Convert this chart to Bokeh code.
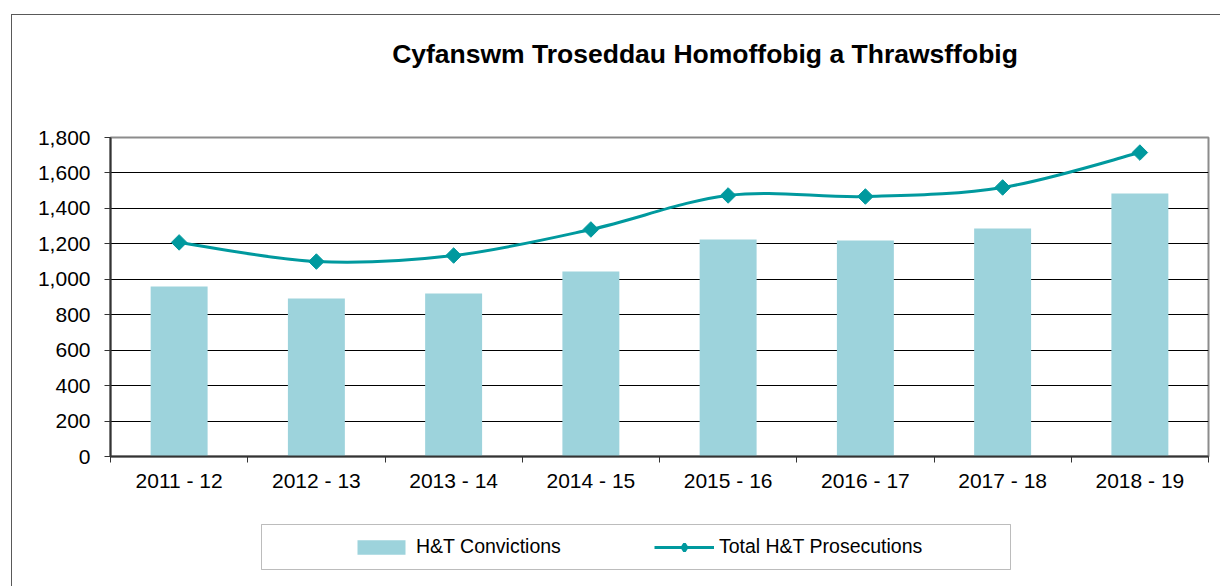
import numpy as np
from bokeh.plotting import figure
from bokeh.layouts import column
from bokeh.models import (Range1d, FixedTicker, NumeralTickFormatter, Legend, LegendItem,
                          BoxAnnotation, Label)
from bokeh.embed import file_html
from bokeh.resources import INLINE

# ---- data ----
categories = ["2011 - 12", "2012 - 13", "2013 - 14", "2014 - 15",
              "2015 - 16", "2016 - 17", "2017 - 18", "2018 - 19"]
convictions = [959, 892, 920, 1044, 1225, 1219, 1287, 1484]
prosecutions = [1208, 1100, 1134, 1281, 1473, 1467, 1518, 1715]
y_ticks = [0, 200, 400, 600, 800, 1000, 1200, 1400, 1600, 1800]
title_text = "Cyfanswm Troseddau Homoffobig a Thrawsffobig"
series_names = ["H&T Convictions", "Total H&T Prosecutions"]

FONT = "Liberation Sans"
BAR = "#9DD3DC"
TEAL = "#00999E"
DARK = "#333333"
W = 1208
FRAME_L, FRAME_R = 110, 1208   # page x of the plot frame (strips are frame-aligned)

n = len(categories)
xc = np.arange(n) + 0.5
yv = np.array(prosecutions, dtype=float)


def strip(h):
    f = figure(width=W, height=h, x_range=Range1d(FRAME_L, FRAME_R), y_range=Range1d(0, h),
               x_axis_type=None, y_axis_type=None, output_backend="svg",
               toolbar_location=None, min_border=0)
    f.outline_line_color = None
    f.background_fill_color = "white"
    f.border_fill_color = "white"
    return f


# ---- title strip ----
p0 = strip(80)
p0.add_layout(Label(x=704.5, y=42, text=title_text, text_align="center",
                    text_baseline="alphabetic", text_font=FONT, text_font_size="26.5px",
                    text_font_style="bold", text_color="black"))

# ---- main chart ----
p = figure(width=W, height=415, x_range=Range1d(0, n), y_range=Range1d(0, 1800),
           output_backend="svg", toolbar_location=None,
           min_border_left=98, min_border_right=12, min_border_top=42, min_border_bottom=54)
p.background_fill_color = "white"
p.border_fill_color = "white"
p.outline_line_color = "#8C8C8C"
p.outline_line_width = 2

bars = p.vbar(x=xc, top=convictions, width=0.415, fill_color=BAR, line_color=None)

# smoothed line (Catmull-Rom style cubic Bezier through the data points)
xe = np.concatenate([[xc[0]], xc, [xc[-1]]])
ye = np.concatenate([[yv[0]], yv, [yv[-1]]])
x0 = xc[:-1]; y0 = yv[:-1]; x1 = xc[1:]; y1 = yv[1:]
cx0 = x0 + (xe[2:n + 1] - xe[0:n - 1]) / 6.0
cy0 = y0 + (ye[2:n + 1] - ye[0:n - 1]) / 6.0
cx1 = x1 - (xe[3:n + 2] - xe[1:n]) / 6.0
cy1 = y1 - (ye[3:n + 2] - ye[1:n]) / 6.0
p.bezier(x0=x0, y0=y0, x1=x1, y1=y1, cx0=cx0, cy0=cy0, cx1=cx1, cy1=cy1,
         line_color=TEAL, line_width=3)
p.scatter(xc, yv, marker="square", size=11, angle=np.pi / 4,
          fill_color=TEAL, line_color=TEAL)

xa = p.xaxis[0]
xa.ticker = FixedTicker(ticks=list(xc), minor_ticks=list(range(n + 1)))
xa.major_label_overrides = {float(x): c for x, c in zip(xc, categories)}
xa.major_tick_line_color = None
xa.major_tick_out = 6
xa.major_tick_in = 0
xa.minor_tick_in = 0
xa.minor_tick_out = 6
xa.minor_tick_line_color = DARK
xa.axis_line_color = DARK
xa.axis_line_width = 2
xa.major_label_text_font = FONT
xa.major_label_text_font_size = "21px"
xa.major_label_text_color = "black"
xa.major_label_standoff = 6

ya = p.yaxis[0]
ya.ticker = FixedTicker(ticks=y_ticks)
ya.formatter = NumeralTickFormatter(format="0,0")
ya.major_tick_out = 6
ya.major_tick_in = 0
ya.major_tick_line_color = DARK
ya.minor_tick_line_color = None
ya.axis_line_color = DARK
ya.axis_line_width = 2
ya.major_label_text_font = FONT
ya.major_label_text_font_size = "21px"
ya.major_label_text_color = "black"
ya.major_label_standoff = 14

p.xgrid.grid_line_color = None
p.ygrid.ticker = FixedTicker(ticks=y_ticks)
p.ygrid.grid_line_color = "black"
p.ygrid.grid_line_width = 1

# ---- legend strip ----
p2 = strip(76)
p2.add_layout(BoxAnnotation(left=261, right=1010, top=62, bottom=17,
                            fill_color=None, line_color="#222222", line_width=1))
# hidden stand-ins carrying the same series, used only for the legend glyphs
lg_bar = p2.vbar(x=xc, top=convictions, width=0.415, fill_color=BAR, line_color=None,
                 visible=False)
lg_line = p2.line(x=xc, y=yv, line_color=TEAL, line_width=3, visible=False)
lg_pt = p2.scatter(x=xc, y=yv, marker="diamond", size=11, line_width=3,
                   fill_color=TEAL, line_color=TEAL, visible=False)
legend = Legend(items=[LegendItem(label=series_names[0], renderers=[lg_bar]),
                       LegendItem(label=series_names[1], renderers=[lg_line, lg_pt])],
                location=(241, 28), orientation="horizontal", padding=0, margin=0,
                spacing=93, label_standoff=5, glyph_width=60, glyph_height=18,
                label_height=22, border_line_color=None, background_fill_alpha=0,
                inactive_fill_alpha=0,
                label_text_font=FONT, label_text_font_size="19.5px",
                label_text_color="black")
p2.add_layout(legend)

layout = column(p0, p, p2, spacing=0)
layout.margin = (14, 0, 0, 11)
layout.styles = {"border-left": "1px solid #595959", "border-top": "1px solid #595959"}

open("out.html", "w").write(file_html(layout, INLINE))
